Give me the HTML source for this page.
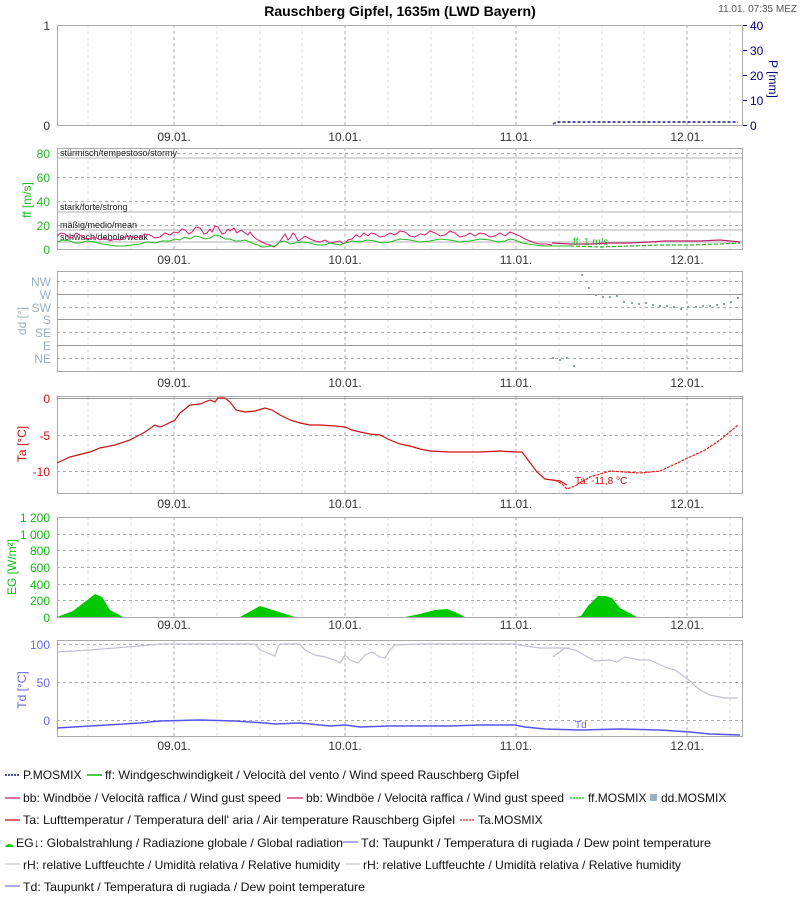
<!DOCTYPE html>
<html><head><meta charset="utf-8"><style>
html,body{margin:0;padding:0;background:#fff}
svg{display:block;font-family:"Liberation Sans",sans-serif}
</style></head><body>
<svg width="800" height="900" viewBox="0 0 800 900" xmlns="http://www.w3.org/2000/svg">
<defs>
<g id="vg">
<g stroke="#ddd" stroke-dasharray="3,3" stroke-width="1">
<line x1="88" x2="88" y1="0" y2="100"/><line x1="131" x2="131" y1="0" y2="100"/>
<line x1="217" x2="217" y1="0" y2="100"/><line x1="260" x2="260" y1="0" y2="100"/><line x1="302" x2="302" y1="0" y2="100"/>
<line x1="388" x2="388" y1="0" y2="100"/><line x1="431" x2="431" y1="0" y2="100"/><line x1="473" x2="473" y1="0" y2="100"/>
<line x1="559" x2="559" y1="0" y2="100"/><line x1="602" x2="602" y1="0" y2="100"/><line x1="644" x2="644" y1="0" y2="100"/>
<line x1="730" x2="730" y1="0" y2="100"/>
</g>
<g stroke="#aaa" stroke-dasharray="3,3" stroke-width="1">
<line x1="174" x2="174" y1="0" y2="100"/><line x1="345" x2="345" y1="0" y2="100"/><line x1="516" x2="516" y1="0" y2="100"/><line x1="687" x2="687" y1="0" y2="100"/>
</g>
</g>
<g id="xl" font-size="12" fill="#333" text-anchor="middle">
<text x="174">09.01.</text><text x="345">10.01.</text><text x="516">11.01.</text><text x="687">12.01.</text>
</g>
</defs>

<text x="400" y="16" font-size="14" font-weight="bold" text-anchor="middle" fill="#000">Rauschberg Gipfel, 1635m (LWD Bayern)</text>
<text x="797" y="12" font-size="10" fill="#555" text-anchor="end">11.01. 07:35 MEZ</text>

<!-- Panel 1 -->
<g transform="translate(0,25) scale(1,1.01)"><use href="#vg"/></g>
<rect x="57.5" y="25.5" width="685" height="100" fill="none" stroke="#aaa"/>
<text x="50" y="30" font-size="12" fill="#333" text-anchor="end">1</text>
<text x="50" y="130" font-size="12" fill="#333" text-anchor="end">0</text>
<g font-size="12" fill="#000080"><text x="750" y="30">40</text><text x="750" y="55">30</text><text x="750" y="80">20</text><text x="750" y="105">10</text><text x="750" y="130">0</text></g>
<g stroke="#000080"><line x1="743" x2="747" y1="25.5" y2="25.5"/><line x1="743" x2="747" y1="50.5" y2="50.5"/><line x1="743" x2="747" y1="75.5" y2="75.5"/><line x1="743" x2="747" y1="100.5" y2="100.5"/><line x1="743" x2="747" y1="125.5" y2="125.5"/></g>
<text transform="translate(769,60) rotate(90)" font-size="12" fill="#000080">P [mm]</text>
<polyline points="553,124 557,122 738,122" fill="none" stroke="#5050a0" stroke-width="2" stroke-dasharray="3,2"/>
<use href="#xl" y="141"/>

<!-- Panel 2 ff -->
<g transform="translate(0,148) scale(1,1.02)"><use href="#vg"/></g>
<g stroke="#aaa" stroke-dasharray="3,3"><line x1="57" x2="743" y1="153.5" y2="153.5"/><line x1="57" x2="743" y1="177.5" y2="177.5"/><line x1="57" x2="743" y1="201.5" y2="201.5"/><line x1="57" x2="743" y1="225.5" y2="225.5"/></g>
<g stroke="#ccc" stroke-width="1.5"><line x1="57" x2="743" y1="158" y2="158"/><line x1="57" x2="743" y1="212" y2="212"/><line x1="57" x2="743" y1="230" y2="230"/><line x1="57" x2="743" y1="242" y2="242"/></g>
<g font-size="9" fill="#222"><text x="60" y="156">stürmisch/tempestoso/stormy</text><text x="60" y="210">stark/forte/strong</text><text x="60" y="228">mäßig/medio/mean</text><text x="60" y="240">schwach/debole/weak</text></g>
<rect x="57.5" y="148.5" width="685" height="101" fill="none" stroke="#aaa"/>
<g font-size="12" fill="#22bb22" text-anchor="end"><text x="50" y="158">80</text><text x="50" y="182">60</text><text x="50" y="206">40</text><text x="50" y="230">20</text><text x="50" y="254">0</text></g>
<text transform="translate(31,200) rotate(-90)" font-size="12" fill="#22bb22" text-anchor="middle">ff [m/s]</text>
<polyline fill="none" stroke="#d81b70" stroke-width="1" points="57,236 61,233 65,234 68,237 72,238 76,233 80,235 84,238 90,239 95,237 100,240 105,238 110,241 115,239 120,240 125,237 130,236 135,238 140,237 145,234 150,235 155,238 160,237 165,233 170,235 174,232 178,233 182,229 185,230 189,234 192,232 196,227 200,228 204,234 207,233 210,229 212,232 215,226 218,227 222,234 225,233 228,229 230,231 234,228 237,233 241,230 245,233 248,235 250,232 253,236 255,238 258,240 262,242 266,244 270,245 274,247 278,244 281,240 285,234 288,240 290,238 293,233 295,235 298,241 300,240 305,236 310,239 315,241 320,242 325,240 330,243 335,242 340,241 343,244 345,243 348,240 352,239 356,235 360,237 364,233 368,236 371,233 375,234 380,237 385,236 390,233 395,235 400,231 405,232 410,236 415,237 420,234 425,235 430,231 435,233 440,236 445,235 450,231 455,233 460,237 465,236 470,233 475,236 480,233 485,234 490,237 495,236 500,233 505,236 510,232 515,234 520,236 525,239 530,241 535,243 540,244 546,244 552,245"/>
<polyline fill="none" stroke="#c0206a" stroke-width="1.2" points="552,243 570,244 590,244 610,243 630,243 650,242 665,241 680,241 700,241 720,240 740,242"/>
<polyline fill="none" stroke="#22bb22" stroke-width="1" points="57,242 63,240 70,241 75,243 80,243 87,241 95,242 102,244 110,245 117,246 125,246 132,245 140,244 147,242 155,243 162,241 170,241 175,239 180,240 185,237 190,239 195,236 200,237 205,239 210,238 215,235 220,236 225,239 230,239 235,241 240,241 245,240 250,242 254,244 258,245 262,247 265,247 270,246 275,246 280,242 285,241 290,244 295,243 302,242 310,243 317,245 325,245 330,243 335,244 340,245 345,243 352,241 360,242 367,240 375,241 382,243 390,242 400,239 410,240 420,242 430,241 440,239 450,240 460,242 470,241 480,239 490,240 498,242 505,241 510,239 515,240 522,243 528,244 535,245 542,246 550,246 560,246 570,246"/>
<polyline fill="none" stroke="#22bb22" stroke-width="1.2" stroke-dasharray="4,2" points="570,246 600,247 630,246 660,245 690,245 720,244 740,243"/>
<text x="573" y="245" font-size="10" fill="#22bb22">ff: 1 m/s</text>
<use href="#xl" y="264"/>

<!-- Panel 3 dd -->
<g transform="translate(0,271)"><use href="#vg"/></g>
<g stroke="#aaa" stroke-dasharray="3,3"><line x1="57" x2="743" y1="281.5" y2="281.5"/><line x1="57" x2="743" y1="307.5" y2="307.5"/><line x1="57" x2="743" y1="332.5" y2="332.5"/><line x1="57" x2="743" y1="358.5" y2="358.5"/></g>
<g stroke="#999"><line x1="57" x2="743" y1="294.5" y2="294.5"/><line x1="57" x2="743" y1="319.5" y2="319.5"/><line x1="57" x2="743" y1="345.5" y2="345.5"/></g>
<rect x="57.5" y="271.5" width="685" height="100" fill="none" stroke="#aaa"/>
<g font-size="12" fill="#9ab0c0" text-anchor="end"><text x="51" y="286">NW</text><text x="51" y="299">W</text><text x="51" y="312">SW</text><text x="51" y="324">S</text><text x="51" y="337">SE</text><text x="51" y="350">E</text><text x="51" y="363">NE</text></g>
<text transform="translate(26,321) rotate(-90)" font-size="12" fill="#9ab0c0" text-anchor="middle">dd [°]</text>
<g fill="#8aa3b0">
<rect x="581" y="274" width="2" height="2"/><rect x="588" y="287" width="2" height="2"/><rect x="595" y="294" width="2" height="2"/><rect x="602" y="296" width="2" height="2"/><rect x="609" y="296" width="2" height="2"/><rect x="616" y="295" width="2" height="2"/><rect x="623" y="301" width="2" height="2"/><rect x="631" y="302" width="2" height="2"/><rect x="638" y="303" width="2" height="2"/><rect x="645" y="302" width="2" height="2"/><rect x="652" y="304" width="2" height="2"/><rect x="659" y="305" width="2" height="2"/><rect x="666" y="305" width="2" height="2"/><rect x="673" y="306" width="2" height="2"/><rect x="680" y="308" width="2" height="2"/><rect x="687" y="306" width="2" height="2"/><rect x="695" y="306" width="2" height="2"/><rect x="702" y="305" width="2" height="2"/><rect x="709" y="305" width="2" height="2"/><rect x="716" y="304" width="2" height="2"/><rect x="723" y="303" width="2" height="2"/><rect x="730" y="301" width="2" height="2"/><rect x="737" y="297" width="2" height="2"/>
<rect x="552" y="357" width="2" height="2"/><rect x="559" y="359" width="2" height="2"/><rect x="566" y="357" width="2" height="2"/><rect x="573" y="365" width="2" height="2"/>
</g>
<use href="#xl" y="387"/>

<!-- Panel 4 Ta -->
<g transform="translate(0,397) scale(1,0.97)"><use href="#vg"/></g>
<g stroke="#aaa" stroke-dasharray="3,3"><line x1="57" x2="743" y1="435.5" y2="435.5"/><line x1="57" x2="743" y1="471.5" y2="471.5"/></g>
<line x1="57" x2="743" y1="398.5" y2="398.5" stroke="#999"/>
<rect x="57.5" y="396.5" width="685" height="97" fill="none" stroke="#aaa"/>
<g font-size="12" fill="#cc1111" text-anchor="end"><text x="50" y="403">0</text><text x="50" y="440">-5</text><text x="50" y="476">-10</text></g>
<text transform="translate(26,444) rotate(-90)" font-size="12" fill="#cc1111" text-anchor="middle">Ta [°C]</text>
<polyline fill="none" stroke="#cc1111" stroke-width="1.2" points="57,463 70,457 90,452 100,448 115,445 130,440 145,432 155,425 160,427 165,425 175,420 180,413 190,405 200,404 210,400 215,402 218,398 225,398 230,402 236,410 245,412 255,411 265,408 272,410 280,415 290,420 300,423 310,425 320,425 335,426 345,427 352,430 360,432 370,434 380,435 390,440 400,444 410,446 420,449 430,451 450,452 480,452 500,451 515,452 522,452 528,460 537,472 545,479 552,480 560,481 567,485"/>
<polyline fill="none" stroke="#dd2222" stroke-width="1.2" stroke-dasharray="3,1" points="555,480 562,484 567,489 575,486 590,477 610,471 625,472 640,473 660,471 673,465 690,457 705,450 720,440 738,425"/>
<text x="575" y="484" font-size="10" fill="#cc1111">Ta: -11,8 °C</text>
<use href="#xl" y="508"/>

<!-- Panel 5 EG -->
<g transform="translate(0,517)"><use href="#vg"/></g>
<g stroke="#aaa" stroke-dasharray="3,3"><line x1="57" x2="743" y1="534.5" y2="534.5"/><line x1="57" x2="743" y1="550.5" y2="550.5"/><line x1="57" x2="743" y1="567.5" y2="567.5"/><line x1="57" x2="743" y1="584.5" y2="584.5"/><line x1="57" x2="743" y1="600.5" y2="600.5"/></g>
<rect x="57.5" y="517.5" width="685" height="100" fill="none" stroke="#aaa"/>
<g font-size="12" fill="#11bb11" text-anchor="end"><text x="50" y="522">1 200</text><text x="50" y="539">1 000</text><text x="50" y="555">800</text><text x="50" y="572">600</text><text x="50" y="589">400</text><text x="50" y="605">200</text><text x="50" y="622">0</text></g>
<text transform="translate(16,567) rotate(-90)" font-size="12" fill="#11bb11" text-anchor="middle">EG [W/m²]</text>
<g fill="#00c800">
<polygon points="57,617 73,611 95,594 102,597 110,610 123,617"/>
<polygon points="240,617 260,606 295,617"/>
<polygon points="405,617 420,614 435,610 447,609 455,612 465,617"/>
<polygon points="575,617 581,616 588,606 598,596 605,596 612,598 620,608 637,617"/>
</g>
<use href="#xl" y="629"/>

<!-- Panel 6 Td/rH -->
<g transform="translate(0,640) scale(1,0.97)"><use href="#vg"/></g>
<g stroke="#aaa" stroke-dasharray="3,3"><line x1="57" x2="743" y1="644.5" y2="644.5"/><line x1="57" x2="743" y1="682.5" y2="682.5"/><line x1="57" x2="743" y1="720.5" y2="720.5"/></g>
<rect x="57.5" y="640.5" width="685" height="96" fill="none" stroke="#aaa"/>
<g font-size="12" fill="#6666ee" text-anchor="end"><text x="50" y="649">100</text><text x="50" y="687">50</text><text x="50" y="725">0</text></g>
<text transform="translate(26,690) rotate(-90)" font-size="12" fill="#6666ee" text-anchor="middle">Td [°C]</text>
<polyline fill="none" stroke="#c4c0d4" stroke-width="1.2" points="57,652 90,650 140,646 160,644 255,644 260,650 265,652 275,656 278,647 280,644 300,644 305,650 315,655 325,657 335,660 340,663 345,655 350,660 358,663 365,655 372,652 380,657 385,658 390,650 395,645 420,644 515,644 525,646 540,648 570,648"/>
<polyline fill="none" stroke="#c4c0d4" stroke-width="1.2" points="553,657 565,648 575,650 595,661 610,660 617,662 625,657 640,660 650,660 665,667 675,670 690,681 700,690 710,695 725,698 738,698"/>
<polyline fill="none" stroke="#5555ee" stroke-width="1.5" points="57,728 90,726 140,723 160,721 200,720 235,721 265,723 275,724 300,723 330,726 345,725 360,727 390,726 420,726 450,726 480,725 515,725 525,727 545,729 580,730 620,729 660,730 690,732 710,734 740,735"/>
<text x="575" y="728" font-size="10" fill="#6666ee">Td</text>
<use href="#xl" y="750"/>

<!-- Legend -->
<g font-size="12" fill="#111">
<line x1="5" x2="20" y1="775" y2="775" stroke="#5050a0" stroke-width="2" stroke-dasharray="2,1"/><text x="23" y="779">P.MOSMIX</text>
<line x1="87" x2="102" y1="775" y2="775" stroke="#44cc44" stroke-width="2"/><text x="105" y="779" textLength="414" lengthAdjust="spacingAndGlyphs">ff: Windgeschwindigkeit / Velocità del vento / Wind speed  Rauschberg Gipfel</text>

<line x1="5" x2="20" y1="798" y2="798" stroke="#e070a0" stroke-width="2"/><text x="23" y="802" textLength="258" lengthAdjust="spacingAndGlyphs">bb: Windböe / Velocità raffica / Wind gust speed</text>
<line x1="287" x2="303" y1="798" y2="798" stroke="#e070a0" stroke-width="2"/><text x="306" y="802" textLength="258" lengthAdjust="spacingAndGlyphs">bb: Windböe / Velocità raffica / Wind gust speed</text>
<line x1="570" x2="585" y1="798" y2="798" stroke="#66dd66" stroke-width="2" stroke-dasharray="2,1"/><text x="588" y="802">ff.MOSMIX</text>
<rect x="650" y="794" width="7" height="7" fill="#9ab0c0"/><text x="661" y="802">dd.MOSMIX</text>

<line x1="5" x2="20" y1="820" y2="820" stroke="#dd6666" stroke-width="2"/><text x="23" y="824" textLength="432" lengthAdjust="spacingAndGlyphs">Ta: Lufttemperatur / Temperatura dell' aria / Air temperature  Rauschberg Gipfel</text>
<line x1="460" x2="475" y1="820" y2="820" stroke="#ee7777" stroke-width="2" stroke-dasharray="2,1"/><text x="478" y="824">Ta.MOSMIX</text>

<path d="M5,847 A5,5 0 0 1 14,847 Z" fill="#00c800"/><text x="16" y="847" textLength="327" lengthAdjust="spacingAndGlyphs">EG↓: Globalstrahlung / Radiazione globale / Global radiation</text>
<line x1="343" x2="358" y1="842" y2="842" stroke="#aaaaee" stroke-width="2"/><text x="361" y="847" textLength="350" lengthAdjust="spacingAndGlyphs">Td: Taupunkt / Temperatura di rugiada / Dew point temperature</text>

<line x1="5" x2="20" y1="864" y2="864" stroke="#ddd" stroke-width="2"/><text x="23" y="869" textLength="317" lengthAdjust="spacingAndGlyphs">rH: relative Luftfeuchte / Umidità relativa / Relative humidity</text>
<line x1="345" x2="360" y1="864" y2="864" stroke="#ddd" stroke-width="2"/><text x="363" y="869" textLength="318" lengthAdjust="spacingAndGlyphs">rH: relative Luftfeuchte / Umidità relativa / Relative humidity</text>

<line x1="5" x2="20" y1="886" y2="886" stroke="#aaaaee" stroke-width="2"/><text x="23" y="891" textLength="342" lengthAdjust="spacingAndGlyphs">Td: Taupunkt / Temperatura di rugiada / Dew point temperature</text>
</g>
</svg>
</body></html>
